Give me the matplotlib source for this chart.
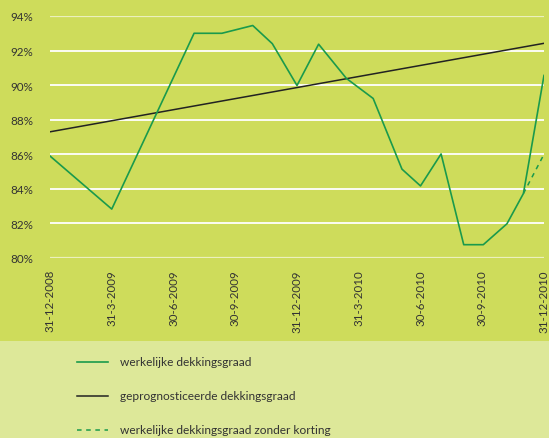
import matplotlib
matplotlib.use("Agg")
import matplotlib.pyplot as plt
from matplotlib.lines import Line2D
from matplotlib.patches import Rectangle

# ---- data ----
tick_labels = ["31-12-2008", "31-3-2009", "30-6-2009", "30-9-2009", "31-12-2009",
               "31-3-2010", "30-6-2010", "30-9-2010", "31-12-2010"]
tick_months = [0, 3, 6, 9, 12, 15, 18, 21, 24]

actual_months = [0, 3, 7, 8.35, 9.85, 10.8, 12, 13.05, 14.4, 15.7, 17.1, 18, 19,
                 20.1, 21.05, 22.2, 23, 24]
actual_values = [85.9, 82.83, 93.0, 93.0, 93.45, 92.4, 89.98, 92.37, 90.39, 89.23,
                 85.14, 84.17, 86.02, 80.77, 80.77, 81.98, 83.73, 90.56]

forecast_months = [0, 24]
forecast_values = [87.3, 92.42]

nocut_months = [23, 24]
nocut_values = [83.73, 86.0]

y_ticks = [80, 82, 84, 86, 88, 90, 92, 94]

legend_labels = ["werkelijke dekkingsgraad", "geprognosticeerde dekkingsgraad",
                 "werkelijke dekkingsgraad zonder korting"]

# ---- style ----
W, H = 549, 439
TOP_BG = "#cedc5b"
BOT_BG = "#dde899"
GREEN = "#1a9a4c"
BLACK = "#222222"
TXT = "#333333"
plt.rcParams['font.family'] = ['Lato', 'DejaVu Sans']

fig = plt.figure(figsize=(W / 100, H / 100), dpi=100)
fig.patch.set_facecolor(TOP_BG)
split = 1 - 342 / H
fig.patches.append(Rectangle((0, 0), 1, split, transform=fig.transFigure,
                             facecolor=BOT_BG, edgecolor="none", zorder=0))

ax = fig.add_axes([50 / W, 1 - 259 / H, (544 - 50) / W, (259 - 17) / H])
ax.set_facecolor("none")
ax.set_xlim(0, 24)
ax.set_ylim(80, 94)
for s in ax.spines.values():
    s.set_visible(False)

for v in y_ticks:
    edge = v in (80, 94)
    ax.axhline(v, color="white", lw=1.6 if edge else 1.3,
               alpha=0.6 if edge else 1.0, zorder=1)

ax.set_yticks(y_ticks)
ax.set_yticklabels([f"{v}%" for v in y_ticks], fontsize=8.4, color=TXT)
ax.tick_params(axis="y", length=0, pad=12)
ax.set_xticks(tick_months)
ax.set_xticklabels(tick_labels, rotation=90, fontsize=8.3, color=TXT)
ax.tick_params(axis="x", length=0, pad=8)

ax.plot(forecast_months, forecast_values, color=BLACK, lw=1.1, zorder=3)
ax.plot(actual_months, actual_values, color=GREEN, lw=1.2, zorder=4)
ax.plot(nocut_months, nocut_values, color=GREEN, lw=1.1, ls=(0, (3, 3)), zorder=4)

# ---- legend ----
styles = [dict(color=GREEN, lw=1.2), dict(color=BLACK, lw=1.1),
          dict(color=GREEN, lw=1.1, ls=(0, (3, 3)))]
ys = [363, 397, 431]
for lab, st, yp in zip(legend_labels, styles, ys):
    yf = 1 - yp / H
    fig.add_artist(Line2D([77 / W, 108 / W], [yf, yf], transform=fig.transFigure, **st))
    fig.text(120 / W, yf, lab, fontsize=8.6, color=TXT, va="center", ha="left")

fig.savefig("out.png", dpi=100, facecolor=fig.get_facecolor())
